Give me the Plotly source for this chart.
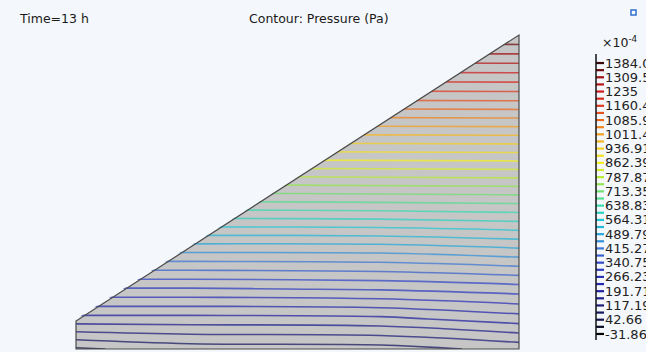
import plotly.graph_objects as go

# ---- data (x measured from the left edge, h from the bottom edge) ----
x_cols = [0, 114, 304, 443]
h_rows = [0, 30, 60, 100, 150, 200, 250, 315]
pressure = [  # x10^-4 Pa
    [37, 59, 64, 91],
    [177, 177, 182, 210],
    [300, 300, 307, 322],
    [467, 467, 469, 486],
    [687, 687, 691, 695],
    [911, 911, 913, 915],
    [1127, 1127, 1129, 1131],
    [1388, 1388, 1388, 1388],
]
level_min = -31.86
level_max = 1384.0
level_step = 37.26
tick_labels = ["1384.0", "1309.5", "1235", "1160.4", "1085.9", "1011.4", "936.91",
               "862.39", "787.87", "713.35", "638.83", "564.31", "489.79", "415.27",
               "340.75", "266.23", "191.71", "117.19", "42.66", "-31.86"]
tick_values = [float(s) for s in tick_labels]
color_list = ["#000000", "#14144a", "#1c1c78", "#2222a0", "#2a30b8", "#3448c8",
              "#3c78d4", "#28a8dc", "#20c8d4", "#38dcb0", "#70e070", "#b8ec38",
              "#f4f020", "#f8d020", "#f4a020", "#ec6a20", "#e03a20", "#d01c1c",
              "#a01010", "#3a0808"]
domain_x = [0, 443, 443, 0]
domain_h = [0, 0, 314, 28]

BG = "#f4f7fb"
W, H = 646, 352


def hex2rgb(h):
    return tuple(int(h[i:i + 2], 16) for i in (1, 3, 5))


# one colour per contour level (label colours + midpoints between them)
level_rgb = []
for i, c in enumerate(color_list):
    level_rgb.append(hex2rgb(c))
    if i < len(color_list) - 1:
        a, b = hex2rgb(c), hex2rgb(color_list[i + 1])
        level_rgb.append(tuple((p + q) // 2 for p, q in zip(a, b)))
n_levels = len(level_rgb)
levels = [level_min + i * level_step for i in range(n_levels)]
level_css = ["rgb(%d,%d,%d)" % c for c in level_rgb]

fig = go.Figure()

# contour lines, one trace per level so each gets its own colour
for lv, col in zip(levels, level_css):
    fig.add_trace(go.Contour(
        x=x_cols, y=h_rows, z=pressure,
        autocontour=False, showscale=False,
        contours=dict(coloring="none", start=lv, end=lv, size=level_step),
        line=dict(width=1.6, color=col, smoothing=1),
        opacity=0.72,
        hoverinfo="skip",
    ))

# legend bar: one dash per level on its own value axis
fig.add_trace(go.Scatter(
    x=[0.5] * n_levels, y=levels, mode="markers",
    xaxis="x3", yaxis="y3", hoverinfo="skip",
    marker=dict(symbol="line-ew", size=8, color=level_css,
                line=dict(color=level_css, width=2.2)),
))

dpath = "M " + " L ".join(f"{x},{h}" for x, h in zip(domain_x, domain_h)) + " Z"
cover = (f"M {domain_x[0]-3},{domain_h[3]} L {domain_x[2]},{domain_h[2]} "
         f"L {domain_x[2]},{domain_h[2]+40} L {domain_x[0]-3},{domain_h[2]+40} Z")

bar_top, bar_bot = 55.9, 341.1

fig.update_layout(
    width=W, height=H,
    margin=dict(l=0, r=0, t=0, b=0, autoexpand=False),
    paper_bgcolor=BG, plot_bgcolor=BG,
    showlegend=False,
    xaxis=dict(range=[-76, W - 76], visible=False, fixedrange=True),
    yaxis=dict(range=[-3, H - 3], visible=False, fixedrange=True),
    xaxis3=dict(domain=[596 / W, 604 / W], range=[0, 1], visible=False,
                anchor="y3", fixedrange=True),
    yaxis3=dict(domain=[1 - bar_bot / H, 1 - bar_top / H],
                range=[level_min - level_step, level_max + level_step],
                anchor="x3", side="right", showgrid=False, zeroline=False,
                showline=False, ticks="", tickvals=tick_values, ticktext=tick_labels,
                tickfont=dict(family="DejaVu Sans", size=13, color="#222222"),
                fixedrange=True),
    shapes=[
        dict(type="path", path=dpath, xref="x", yref="y", layer="below",
             fillcolor="#c6c6c6", line=dict(width=0)),
        dict(type="path", path=cover, xref="x", yref="y", layer="above",
             fillcolor=BG, line=dict(width=0)),
        dict(type="path", path=dpath, xref="x", yref="y", layer="above",
             fillcolor="rgba(0,0,0,0)", line=dict(color="#4a4a4a", width=1.2)),
        dict(type="line", xref="paper", yref="paper",
             x0=596 / W, x1=596 / W, y0=1 - 54 / H, y1=1 - 340 / H,
             line=dict(color="#111111", width=1.5)),
        dict(type="rect", xref="paper", yref="paper",
             x0=631 / W, x1=636 / W, y0=1 - 10 / H, y1=1 - 15 / H,
             fillcolor="#ffffff", line=dict(color="#2f6fd0", width=1.5)),
    ],
    annotations=[
        dict(text="Time=13 h", x=17 / W, y=1 - 18 / H, xref="paper", yref="paper",
             xanchor="left", yanchor="middle", showarrow=False,
             font=dict(family="DejaVu Sans", size=12.5, color="#1a1a1a")),
        dict(text="Contour: Pressure (Pa)", x=247 / W, y=1 - 18 / H, xref="paper",
             yref="paper", xanchor="left", yanchor="middle", showarrow=False,
             font=dict(family="DejaVu Sans", size=12.5, color="#1a1a1a")),
        dict(text="×10<sup>-4</sup>", x=600 / W, y=1 - 42 / H, xref="paper",
             yref="paper", xanchor="left", yanchor="middle", showarrow=False,
             font=dict(family="DejaVu Sans", size=12.5, color="#1a1a1a")),
    ],
)

fig.write_html("out.html")
